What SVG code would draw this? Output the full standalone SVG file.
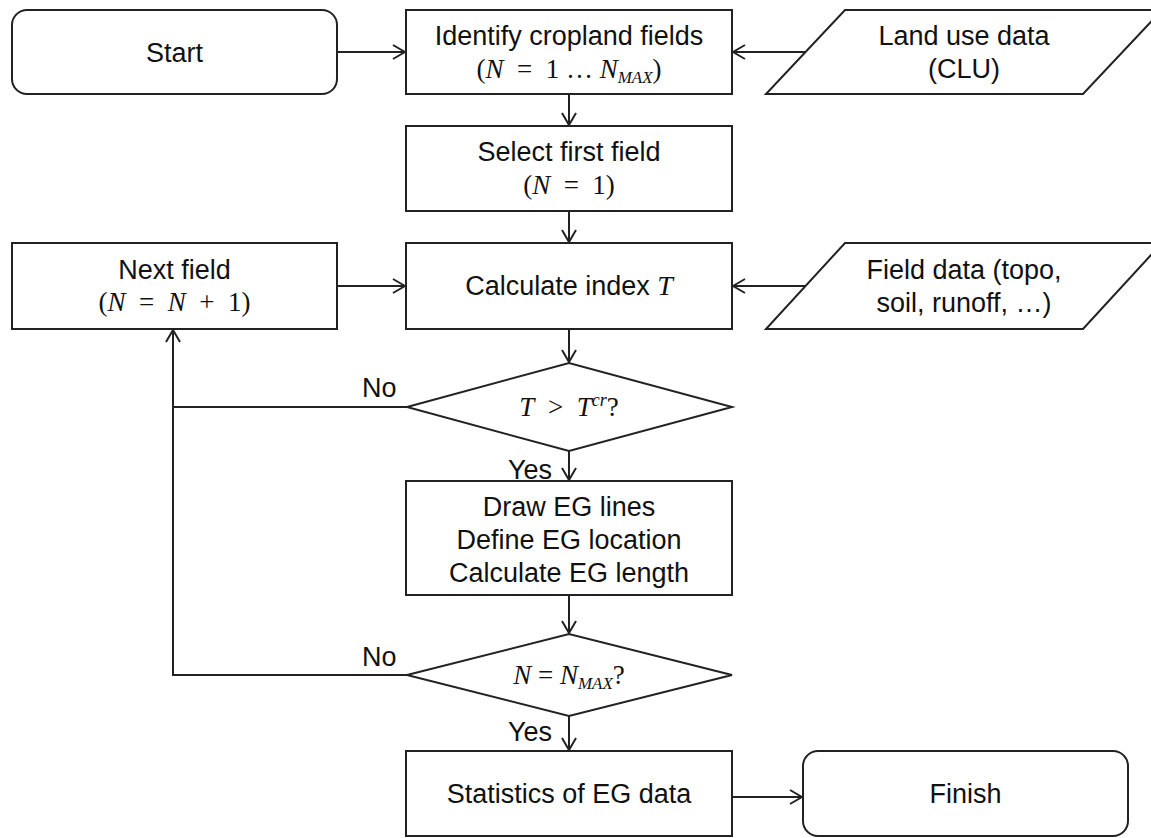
<svg xmlns="http://www.w3.org/2000/svg" width="1151" height="838" viewBox="0 0 1151 838">
<style>
.box{fill:#fff;stroke:#222;stroke-width:2}
.ln{fill:none;stroke:#222;stroke-width:2}
.t{font-family:"Liberation Sans",Arial,sans-serif;font-size:27px;fill:#111;text-anchor:middle}
.lbl{font-family:"Liberation Sans",Arial,sans-serif;font-size:27px;fill:#111}
.m{font-family:"Liberation Serif","Times New Roman",serif;font-size:27px;fill:#111;text-anchor:middle}
.i{font-style:italic}
</style>
<defs>
<marker id="arr" viewBox="0 0 14 16" refX="13" refY="8" markerWidth="14" markerHeight="16" markerUnits="userSpaceOnUse" orient="auto">
<path d="M1,1 L13,8 L1,15" fill="none" stroke="#222" stroke-width="2"/>
</marker>
</defs>
<rect width="1151" height="838" fill="#fff"/>
<g id="connectors">
<line class="ln" x1="337" y1="52" x2="405" y2="52" marker-end="url(#arr)"/>
<line class="ln" x1="805" y1="52" x2="733" y2="52" marker-end="url(#arr)"/>
<line class="ln" x1="569" y1="94" x2="569" y2="125" marker-end="url(#arr)"/>
<line class="ln" x1="569" y1="211" x2="569" y2="242" marker-end="url(#arr)"/>
<line class="ln" x1="337" y1="286" x2="405" y2="286" marker-end="url(#arr)"/>
<line class="ln" x1="805" y1="286" x2="733" y2="286" marker-end="url(#arr)"/>
<line class="ln" x1="569" y1="329" x2="569" y2="362" marker-end="url(#arr)"/>
<line class="ln" x1="569" y1="451" x2="569" y2="480" marker-end="url(#arr)"/>
<line class="ln" x1="569" y1="595" x2="569" y2="633" marker-end="url(#arr)"/>
<line class="ln" x1="569" y1="716" x2="569" y2="750" marker-end="url(#arr)"/>
<line class="ln" x1="732" y1="797" x2="802" y2="797" marker-end="url(#arr)"/>
<polyline class="ln" points="407,407 173,407 173,330" marker-end="url(#arr)"/>
<polyline class="ln" points="407,675 173,675 173,407"/>
<text class="lbl" x="362" y="397">No</text>
<text class="lbl" x="508" y="479">Yes</text>
<text class="lbl" x="362" y="666">No</text>
<text class="lbl" x="508" y="741">Yes</text>
</g>
<g id="start">
<rect class="box" x="12" y="10" width="325" height="84" rx="15"/>
<text class="t" x="174.5" y="62">Start</text>
</g>
<g id="identify">
<rect class="box" x="406" y="10" width="326" height="84"/>
<text class="t" x="569" y="45">Identify cropland fields</text>
<text class="m" x="569" y="78">(<tspan class="i">N</tspan>&#8194;=&#8194;1 … <tspan class="i">N</tspan><tspan class="i" font-size="17" dy="5">MAX</tspan><tspan dy="-5">)</tspan></text>
</g>
<g id="landuse">
<polygon class="box" points="845,10 1162,10 1083,94 766,94"/>
<text class="t" x="964" y="45">Land use data</text>
<text class="t" x="964" y="78">(CLU)</text>
</g>
<g id="select">
<rect class="box" x="406" y="126" width="326" height="85"/>
<text class="t" x="569" y="161">Select first field</text>
<text class="m" x="569" y="194">(<tspan class="i">N</tspan>&#8194;=&#8194;1)</text>
</g>
<g id="next">
<rect class="box" x="12" y="243" width="325" height="86"/>
<text class="t" x="174.5" y="279">Next field</text>
<text class="m" x="174.5" y="311">(<tspan class="i">N</tspan>&#8194;=&#8194;<tspan class="i">N</tspan>&#8194;+&#8194;1)</text>
</g>
<g id="calculate">
<rect class="box" x="406" y="243" width="326" height="86"/>
<text class="t" x="569" y="295">Calculate index <tspan font-family="Liberation Serif,serif" font-style="italic" font-size="28">T</tspan></text>
</g>
<g id="fielddata">
<polygon class="box" points="845,243 1162,243 1083,329 766,329"/>
<text class="t" x="964" y="279">Field data (topo,</text>
<text class="t" x="964" y="312">soil, runoff, …)</text>
</g>
<g id="decision1">
<polygon class="box" points="407,407 569,363 732,407 569,451"/>
<text class="m" x="569" y="416"><tspan class="i">T</tspan>&#8194;&gt;&#8194;<tspan class="i">T</tspan><tspan class="i" font-size="18" dy="-10">cr</tspan><tspan dy="10">?</tspan></text>
</g>
<g id="draw">
<rect class="box" x="406" y="481" width="326" height="114"/>
<text class="t" x="569" y="516">Draw EG lines</text>
<text class="t" x="569" y="549">Define EG location</text>
<text class="t" x="569" y="582">Calculate EG length</text>
</g>
<g id="decision2">
<polygon class="box" points="407,675 569,634 732,675 569,716"/>
<text class="m" x="569" y="684"><tspan class="i">N</tspan> = <tspan class="i">N</tspan><tspan class="i" font-size="17" dy="5">MAX</tspan><tspan dy="-5">?</tspan></text>
</g>
<g id="stats">
<rect class="box" x="406" y="751" width="326" height="85"/>
<text class="t" x="569" y="803">Statistics of EG data</text>
</g>
<g id="finish">
<rect class="box" x="803" y="751" width="325" height="85" rx="15"/>
<text class="t" x="965.5" y="803">Finish</text>
</g>
</svg>
